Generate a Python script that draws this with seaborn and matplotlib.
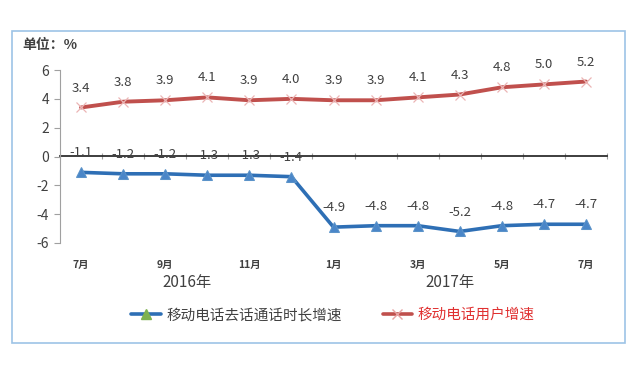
import matplotlib
matplotlib.use("Agg")
import matplotlib.pyplot as plt
import seaborn as sns
import pandas as pd
from matplotlib.patches import Rectangle
from matplotlib.lines import Line2D

months = ["7月", "", "9月", "", "11月", "", "1月", "", "3月", "", "5月", "", "7月"]
call_growth = [-1.1, -1.2, -1.2, -1.3, -1.3, -1.4, -4.9, -4.8, -4.8, -5.2, -4.8, -4.7, -4.7]
user_growth = [3.4, 3.8, 3.9, 4.1, 3.9, 4.0, 3.9, 3.9, 4.1, 4.3, 4.8, 5.0, 5.2]
series_names = ["移动电话去话通话时长增速", "移动电话用户增速"]
year_labels = ["2016年", "2017年"]
y_ticks = [-6, -4, -2, 0, 2, 4, 6]

sns.set_theme(style="white")
plt.rcParams['font.family'] = ['Noto Sans CJK SC', 'DejaVu Sans']

idx = list(range(len(months)))
df = pd.DataFrame({
    "idx": idx * 2,
    "value": call_growth + user_growth,
    "series": [series_names[0]] * len(idx) + [series_names[1]] * len(idx),
})

fig = plt.figure(figsize=(6.4, 3.76), dpi=100)
fig.patch.set_facecolor("white")
fig.patches.append(Rectangle((12 / 640, 1 - 343 / 376), 613 / 640, 312 / 376,
                             transform=fig.transFigure, fill=False,
                             edgecolor="#9DC3E6", linewidth=1.2))
ax = fig.add_axes([60 / 640, 1 - 243 / 376, 547 / 640, 173 / 376])

blue = "#2E6FB5"
red = "#C0504D"
sns.lineplot(data=df[df.series == series_names[0]], x="idx", y="value", ax=ax,
             color=blue, linewidth=2.6, marker="^", markersize=7,
             markerfacecolor="#4A86C8", markeredgecolor="#5B93C9", legend=False)
sns.lineplot(data=df[df.series == series_names[1]], x="idx", y="value", ax=ax,
             color=red, linewidth=2.8, marker="x", markersize=7,
             markeredgecolor="#EBB5B5", markeredgewidth=0.9, legend=False)

for i, v in enumerate(call_growth):
    ax.annotate(f"{v:.1f}", (i, v), xytext=(0, 14), textcoords="offset points",
                ha="center", va="center", fontsize=9.5, color="#404040")
for i, v in enumerate(user_growth):
    ax.annotate(f"{v:.1f}", (i, v), xytext=(0, 14), textcoords="offset points",
                ha="center", va="center", fontsize=9.5, color="#404040")

ax.set_xlim(-0.5, len(months) - 0.5)
ax.set_ylim(-6, 6)
ax.set_yticks(y_ticks)
ax.set_yticklabels([str(t) for t in y_ticks], fontsize=10, color="#404040")
ax.set_xticks(idx)
ax.set_xticklabels(months, fontsize=7.5, fontweight="bold", color="#404040")
ax.tick_params(axis="x", length=0, pad=12)
ax.tick_params(axis="y", length=4, width=0.8, color="#A0A0A0", direction="out", left=True, pad=4)
ax.set_xlabel("")
ax.set_ylabel("")
for s in ["top", "right", "bottom"]:
    ax.spines[s].set_visible(False)
ax.spines["left"].set_color("#A0A0A0")
ax.spines["left"].set_linewidth(0.8)

sec = ax.secondary_xaxis(0.5)
sec.set_xticks([i - 0.5 for i in range(len(months) + 1)])
sec.set_xticklabels([])
sec.tick_params(length=5, width=0.8, color="#A0A0A0", direction="inout")
sec.spines["bottom"].set_color("#A0A0A0")
sec.spines["bottom"].set_linewidth(0.8)

fig.text(187 / 640, 1 - 283 / 376, year_labels[0], ha="center", va="center",
         fontsize=11, color="#404040")
fig.text(450 / 640, 1 - 283 / 376, year_labels[1], ha="center", va="center",
         fontsize=11, color="#404040")
fig.text(22 / 640, 1 - 45 / 376, "单位：%", ha="left", va="center",
         fontsize=10, fontweight="bold", color="#404040")

handles = [
    Line2D([], [], color=blue, linewidth=2.6, marker="^", markersize=7,
           markerfacecolor="#7FB24F", markeredgecolor="#7FB24F"),
    Line2D([], [], color=red, linewidth=2.6, marker="x", markersize=7,
           markeredgecolor="#E6A3A3"),
]
leg = fig.legend(handles, series_names, ncol=2, frameon=False,
                 loc="center", bbox_to_anchor=(333 / 640, 1 - 315 / 376),
                 fontsize=10.5, handlelength=2.0, columnspacing=2.8, handletextpad=0.4)
leg.get_texts()[0].set_color("#404040")
leg.get_texts()[1].set_color("#E03030")

fig.savefig("out.png", dpi=100)
